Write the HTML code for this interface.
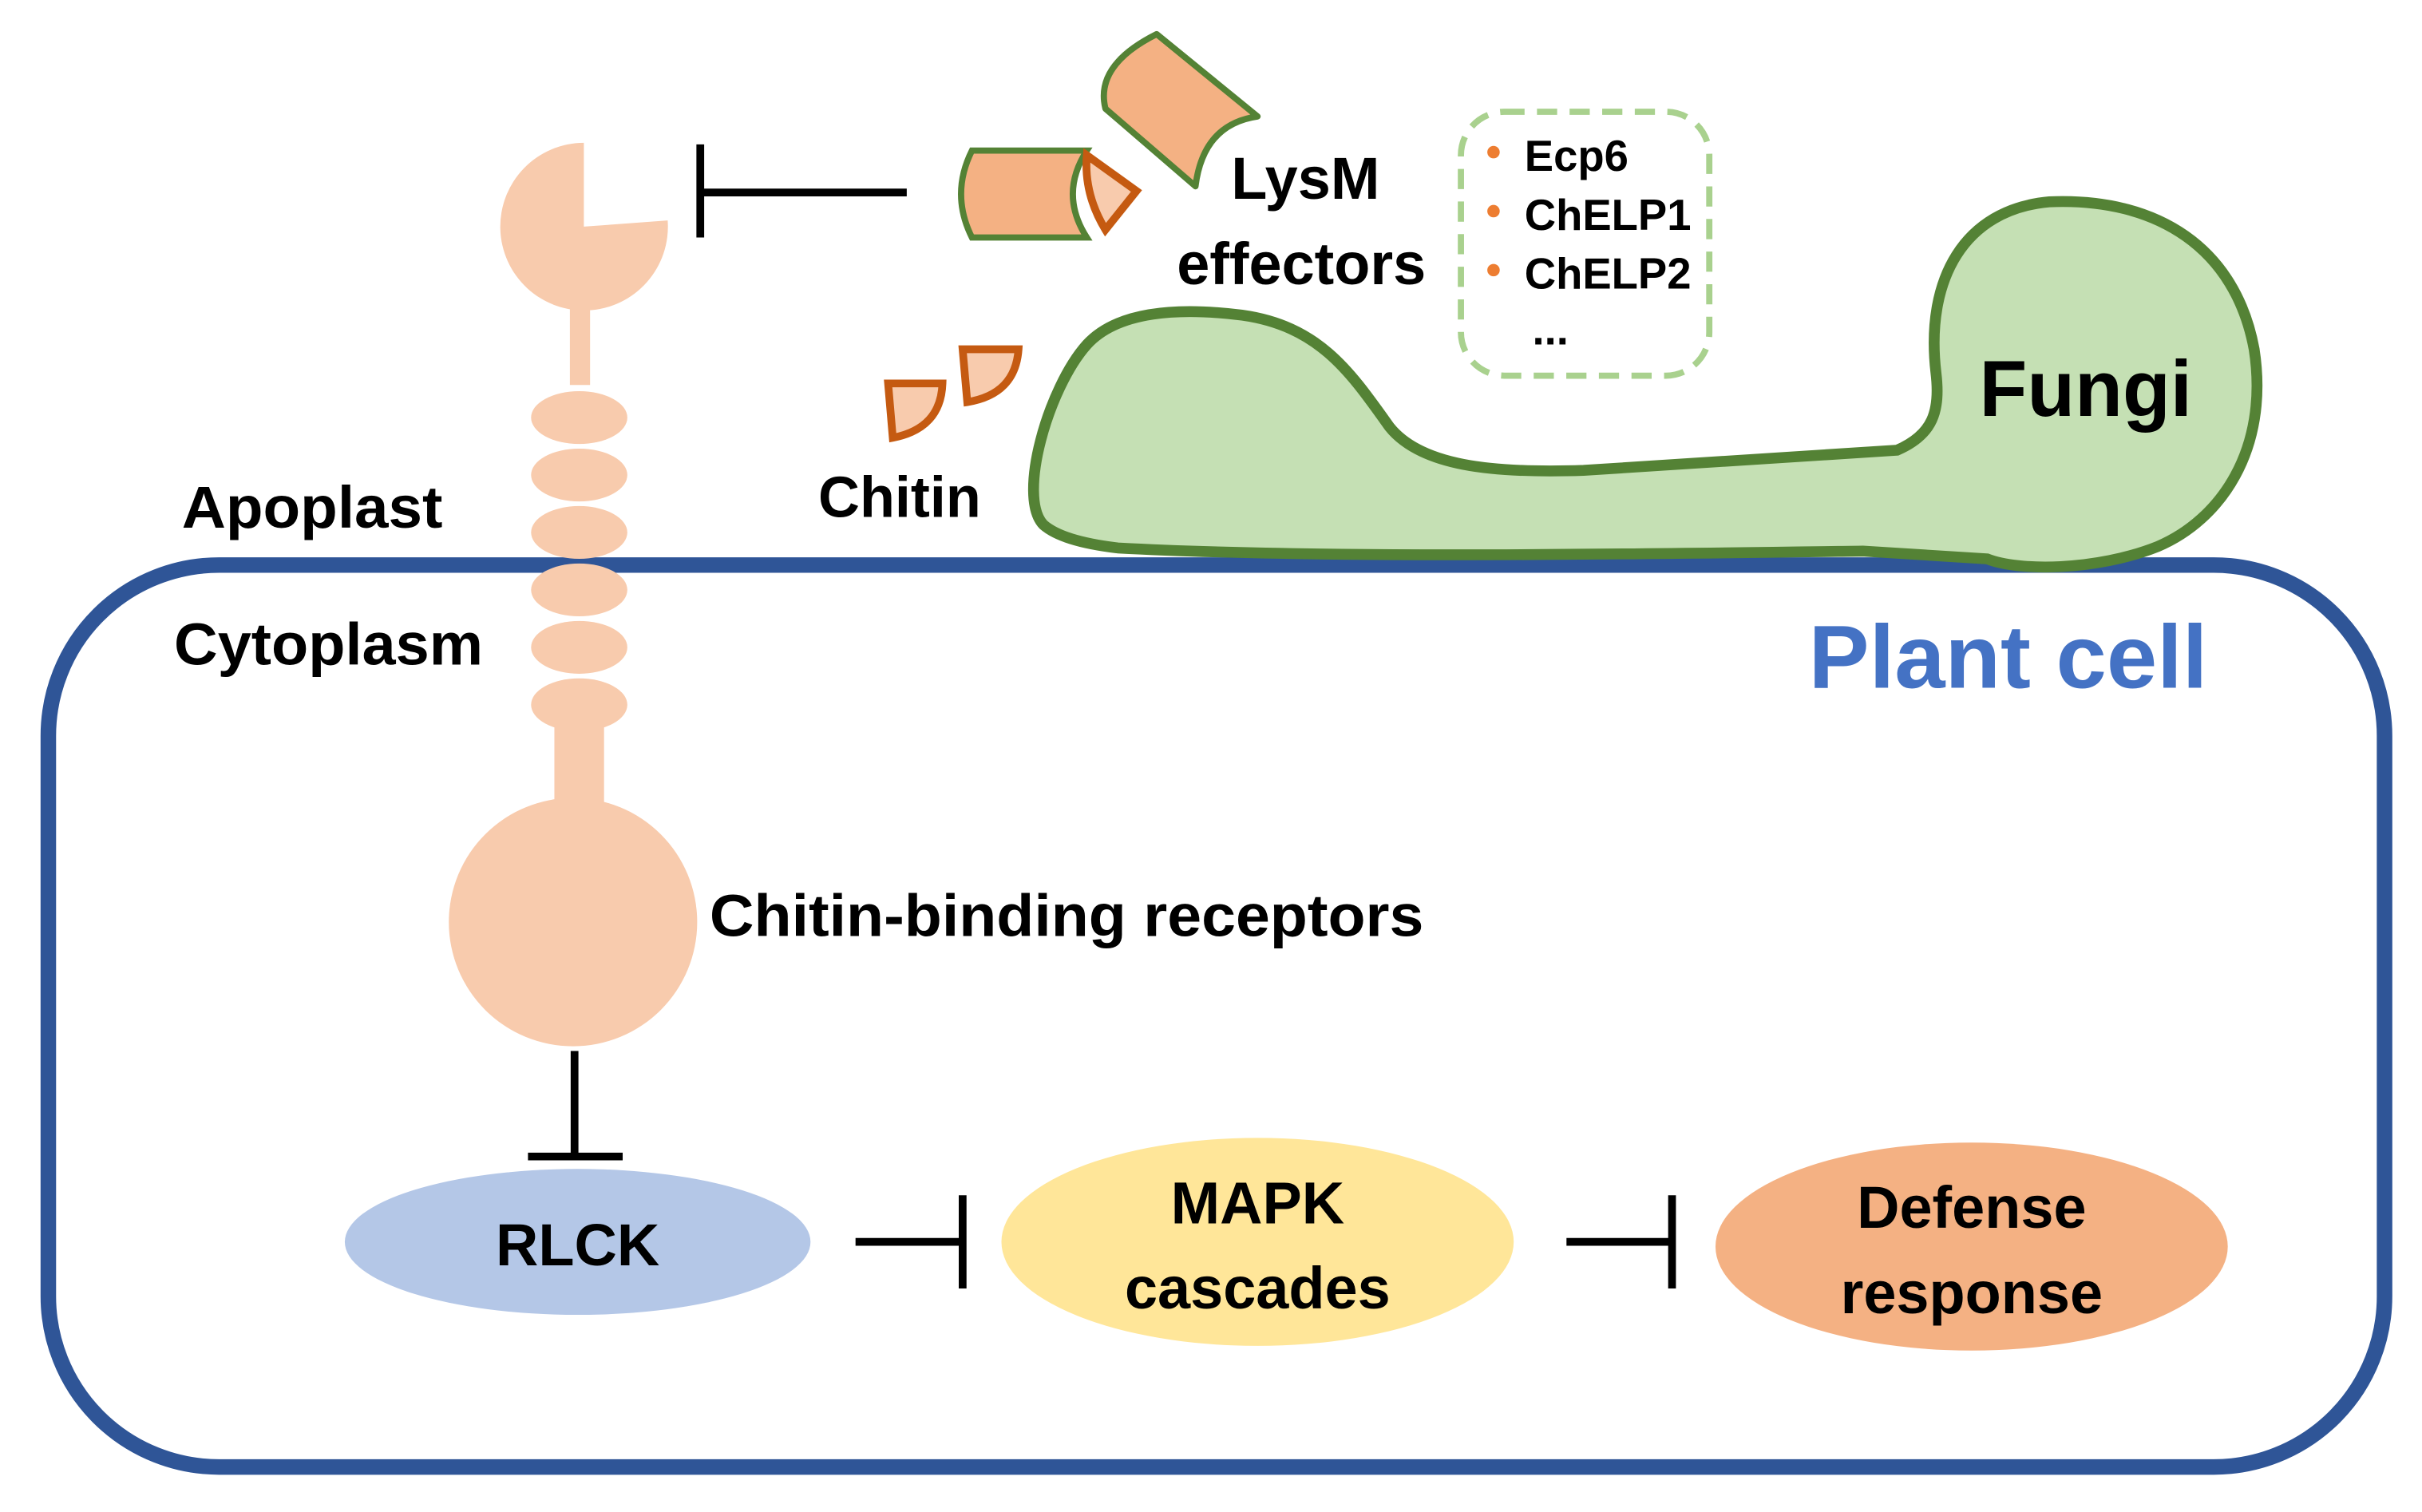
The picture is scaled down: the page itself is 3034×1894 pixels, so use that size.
<!DOCTYPE html>
<html><head><meta charset="utf-8"><style>
html,body{margin:0;padding:0;background:#fff;}
svg{display:block;}
text{font-family:"Liberation Sans",sans-serif;font-weight:bold;}
</style></head><body>
<svg width="3034" height="1894" viewBox="0 0 1560 974" xmlns="http://www.w3.org/2000/svg">
<rect x="0" y="0" width="1560" height="974" fill="#fff"/>
<rect x="31" y="364" width="1505" height="581" rx="110" ry="110" fill="none" stroke="#2F5597" stroke-width="10"/>
<path d="M672,338 C655,320 675,250 700,222 C720,200 760,198 800,203 C850,210 870,240 895,275 C915,300 960,305 1020,303 L1222,290 C1245,280 1250,265 1247,240 C1240,180 1265,135 1320,130 C1390,127 1440,160 1452,225 C1462,290 1430,335 1390,352 C1350,368 1300,368 1280,360 L1200,355 C1050,357 850,360 720,353 C695,350 680,345 672,338 Z" fill="#C5E0B4" stroke="#548235" stroke-width="7"/>
<g fill="#F8CBAD">
<path d="M376,146 L376,92 A54,54 0 1 0 430,142 Z"/>
<rect x="367" y="198" width="13" height="50"/>
<ellipse cx="373" cy="269" rx="31" ry="17"/>
<ellipse cx="373" cy="306" rx="31" ry="17"/>
<ellipse cx="373" cy="343" rx="31" ry="17"/>
<ellipse cx="373" cy="380" rx="31" ry="17"/>
<ellipse cx="373" cy="417" rx="31" ry="17"/>
<ellipse cx="373" cy="454" rx="31" ry="17"/>
<rect x="357" y="465" width="32" height="60"/>
<circle cx="369" cy="594" r="80"/>
</g>
<g stroke="#000" stroke-width="5" fill="none">
<line x1="584" y1="124" x2="451" y2="124"/><line x1="451" y1="93" x2="451" y2="153"/>
<line x1="370" y1="677" x2="370" y2="745"/><line x1="340" y1="745" x2="401" y2="745"/>
<line x1="551" y1="800" x2="620" y2="800"/><line x1="620" y1="770" x2="620" y2="830"/>
<line x1="1009" y1="800" x2="1077" y2="800"/><line x1="1077" y1="770" x2="1077" y2="830"/>
</g>
<ellipse cx="372" cy="800" rx="150" ry="47" fill="#B4C7E7"/>
<ellipse cx="810" cy="800" rx="165" ry="67" fill="#FFE699"/>
<ellipse cx="1270" cy="803" rx="165" ry="67" fill="#F4B183"/>
<path d="M745,22 L810,75 Q775,80 770,120 L712,70 Q705,42 745,22 Z" fill="#F4B183" stroke="#548235" stroke-width="4" stroke-linejoin="round"/>
<path d="M626,97 L700,97 Q682,125 700,153 L626,153 Q612,125 626,97 Z" fill="#F4B183" stroke="#548235" stroke-width="4"/>
<path d="M700,100 L732,123 L712,148 Q698,125 700,100 Z" fill="#F8CBAD" stroke="#C55A11" stroke-width="5" stroke-linejoin="miter"/>
<path d="M572,247 L607,247 Q606,276 575,282 Z" fill="#F8CBAD" stroke="#C55A11" stroke-width="5"/>
<path d="M620,225 L656,225 Q654,254 623,259 Z" fill="#F8CBAD" stroke="#C55A11" stroke-width="5"/>
<rect x="941" y="72" width="160" height="170" rx="28" fill="none" stroke="#A9D18E" stroke-width="4" stroke-dasharray="13,8"/>
<g fill="#ED7D31"><circle cx="962" cy="98" r="4"/><circle cx="962" cy="136" r="4"/><circle cx="962" cy="174" r="4"/></g>
<g fill="#000">
<text x="117" y="340" font-size="38" textLength="168" lengthAdjust="spacingAndGlyphs">Apoplast</text>
<text x="112" y="428" font-size="38" textLength="199" lengthAdjust="spacingAndGlyphs">Cytoplasm</text>
<text x="527" y="333" font-size="37">Chitin</text>
<text x="457" y="603" font-size="38" textLength="460" lengthAdjust="spacingAndGlyphs">Chitin-binding receptors</text>
<text x="793" y="128" font-size="38">LysM</text>
<text x="758" y="183" font-size="38">effectors</text>
<text x="982" y="110" font-size="28">Ecp6</text>
<text x="982" y="148" font-size="28">ChELP1</text>
<text x="982" y="186" font-size="28">ChELP2</text>
<text x="987" y="222" font-size="28">...</text>
<text x="1275" y="268" font-size="51" textLength="137" lengthAdjust="spacingAndGlyphs">Fungi</text>
<text x="372" y="815" font-size="38" text-anchor="middle">RLCK</text>
<text x="810" y="788" font-size="38" text-anchor="middle">MAPK</text>
<text x="810" y="843" font-size="38" text-anchor="middle">cascades</text>
<text x="1270" y="791" font-size="38" text-anchor="middle">Defense</text>
<text x="1270" y="846" font-size="38" text-anchor="middle">response</text>
</g>
<text x="1165" y="443" font-size="58" fill="#4472C4" textLength="257" lengthAdjust="spacingAndGlyphs">Plant cell</text>
</svg>
</body></html>
